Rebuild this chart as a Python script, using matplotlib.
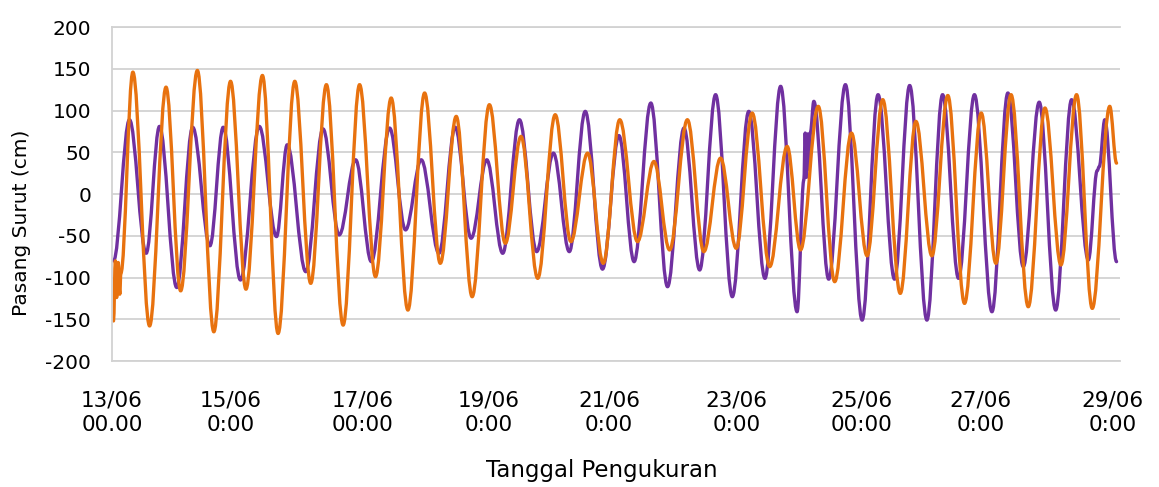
import matplotlib
matplotlib.use("Agg")
import matplotlib.pyplot as plt
from matplotlib.path import Path
from matplotlib.patches import PathPatch

# jam sejak 13/06 00:00 -> puncak / lembah pasang surut (cm)
ungu_jam = [0, 6.1, 12.5, 17.6, 24.2, 30.3, 36.9, 42.0, 48.6, 55.8, 62.4,
            66.5, 73.6, 80.2, 86.4, 92.7, 98.7, 105.7, 111.8, 117.8, 124.6,
            130.8, 136.9, 142.9, 149.0, 155.4, 162.0, 168.4, 174.5, 180.6, 187.2,
            193.5, 199.3, 205.7, 212.1, 218.4, 224.4, 230.5, 236.9, 243.2, 249.4,
            255.4, 261.7, 264.3, 264.8, 265.3, 265.8, 266.3, 266.8,
            268.1, 273.8, 280.2, 286.6, 292.7, 299.0, 304.8, 311.4, 317.4, 323.5,
            329.6, 336.3, 342.4, 348.3, 354.4, 360.7, 366.8, 373.2,
            376.6, 377.4, 379.5, 384.0]
ungu_cm = [-80, 89, -71, 81, -112, 80, -62, 80, -103, 81, -51,
           59, -93, 78, -49, 41, -81, 79, -43, 41, -71,
           80, -53, 41, -71, 89, -69, 49, -69, 99, -90,
           70, -81, 109, -111, 79, -91, 119, -123, 99, -101,
           129, -141, 17, 73, 20, 72, 30, 74,
           111, -102, 131, -151, 119, -102, 130, -151, 119, -101,
           119, -141, 121, -87, 110, -139, 113, -79,
           28, 33, 89, -81]

oranye_jam = [0, 0.7, 1.2, 1.8, 2.4, 2.8,
              7.4, 13.8, 20.1, 25.7, 32.1, 38.4, 44.8, 50.7, 57.0, 63.0,
              69.4, 75.5, 81.5, 87.9, 94.2, 100.3, 106.3, 112.7, 119.1, 125.1,
              131.2, 137.3, 143.9, 150.0, 156.0, 162.4, 169.1, 175.1, 181.5, 187.5,
              193.8, 200.6, 206.9, 212.9, 219.7, 226.0, 232.4, 238.4, 244.5, 251.2,
              257.9, 263.0, 269.8, 276.1, 282.5, 288.5, 294.5, 301.2, 307.2, 313.3,
              319.4, 325.8, 332.2, 337.8, 343.6, 350.2, 356.6, 362.7, 368.7, 374.7,
              381.4, 384.0]
oranye_cm = [-152, -80, -124, -82, -120, -95,
             146, -158, 128, -116, 148, -165, 135, -114, 142, -167,
             135, -107, 131, -157, 131, -99, 115, -139, 121, -83,
             93, -123, 107, -59, 69, -101, 95, -57, 49, -83,
             89, -57, 39, -67, 89, -69, 43, -65, 97, -87,
             57, -67, 105, -105, 73, -74, 113, -119, 87, -74,
             118, -131, 97, -83, 119, -135, 103, -85, 119, -137,
             105, 37]

tick_jam = [-0.6, 44.8, 95.3, 143.8, 189.7, 238.6, 286.3, 331.8, 382.6]
tick_label = ["13/06\n00.00", "15/06\n0:00", "17/06\n00:00", "19/06\n0:00",
              "21/06\n0:00", "23/06\n0:00", "25/06\n00:00", "27/06\n0:00",
              "29/06\n0:00"]


def kurva(jam, cm, k=0.36):
    # garis halus antar titik (bezier, tangen datar di puncak/lembah)
    assert len(jam) == len(cm)
    verts = [(jam[0], cm[0])]
    codes = [Path.MOVETO]
    for i in range(1, len(jam)):
        dt = jam[i] - jam[i - 1]
        verts += [(jam[i - 1] + k * dt, cm[i - 1]), (jam[i] - k * dt, cm[i]), (jam[i], cm[i])]
        codes += [Path.CURVE4] * 3
    return Path(verts, codes)


plt.rcParams['font.family'] = 'DejaVu Sans'
plt.rcParams['axes.unicode_minus'] = False
fig = plt.figure(figsize=(11.59, 4.87), dpi=100)
ax = fig.add_axes([0.0966, 0.2587, 0.8697, 0.6858])

grid_col = '#d2d2d2'
ax.add_patch(PathPatch(kurva(ungu_jam, ungu_cm), fill=False, edgecolor='#7030a0',
                       lw=2.4, capstyle='round', joinstyle='round'))
ax.add_patch(PathPatch(kurva(oranye_jam, oranye_cm), fill=False, edgecolor='#e8720f',
                       lw=2.4, capstyle='round', joinstyle='round'))

ax.set_xlim(-0.3, 385.3)
ax.set_ylim(-200, 200)
ax.set_yticks(range(-200, 201, 50))
ax.set_xticks(tick_jam, tick_label)
ax.yaxis.grid(True, color=grid_col, lw=1.3)
ax.set_axisbelow(True)
ax.tick_params(axis='y', length=0, pad=15, labelsize=14.5)
ax.tick_params(axis='x', length=0, pad=21, labelsize=15.5)
for lbl in ax.get_xticklabels():
    lbl.set_linespacing(1.3)
for s in ['top', 'bottom', 'left']:
    ax.spines[s].set_color(grid_col)
    ax.spines[s].set_linewidth(1.3)
ax.spines['right'].set_visible(False)

fig.text(22 / 1159, 1 - 223 / 487, 'Pasang Surut (cm)', rotation=90,
         ha='center', va='center', fontsize=14.5)
fig.text(602 / 1159, 1 - 470 / 487, 'Tanggal Pengukuran', ha='center', va='center',
         fontsize=16.5)

fig.savefig('out.png', dpi=100)
